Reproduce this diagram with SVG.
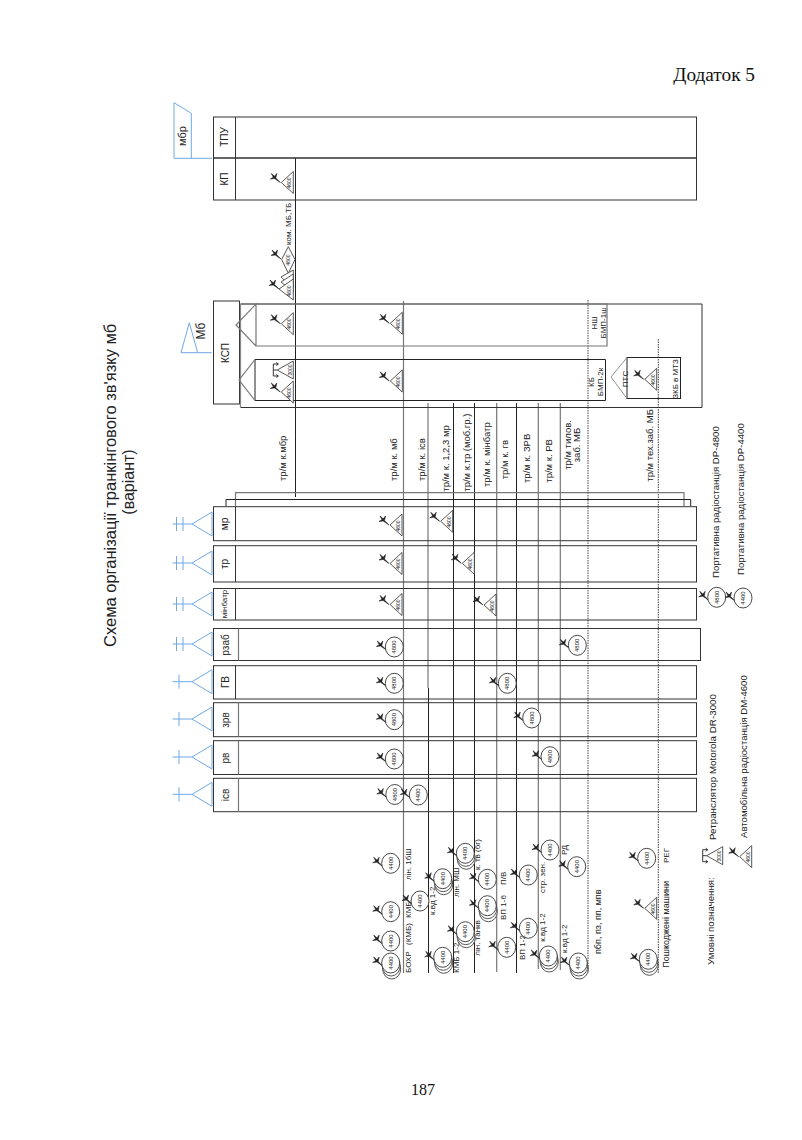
<svg xmlns="http://www.w3.org/2000/svg" width="802" height="1140" viewBox="0 0 802 1140">
<style>
text{font-family:"Liberation Sans",Arial,sans-serif;fill:#222;font-size:9px}
.m{text-anchor:middle}
.n{font-size:6px;text-anchor:middle}
.t{font-size:5px;text-anchor:middle}
.s{font-size:8px}
.l{font-size:9.5px}
.k{font-size:10px;text-anchor:middle}
.f{fill:none;stroke:#333;stroke-width:1}
.g{fill:none;stroke:#777;stroke-width:1.2}
.b{fill:none;stroke:#6fa8e6;stroke-width:1}
.w{fill:#fff;stroke:#444;stroke-width:.9}
.cl{fill:none;stroke:#222;stroke-width:1}
.cg{fill:none;stroke:#777;stroke-width:1.2}
.cd{fill:none;stroke:#444;stroke-width:1;stroke-dasharray:1.5 1}
</style>
<defs>
<g id="ant"><path d="M0,0L-4.500,-4.500L-3.500,-9L-5.800,-6.200L-9,-9L-7,-5.300L-10,-3.500L-5.800,-4Z" fill="#222" stroke="#222" stroke-width=".6"/></g>
<g id="tri"><use href="#ant" x="-13" y="0"/><polygon class="w" points="-12,0 0,-11 0,11"/></g>
<g id="cir"><use href="#ant" x="-8" y="3"/><ellipse class="w" rx="9" ry="10" style="stroke:#333"/></g>
<g id="cir3"><ellipse class="w" cx="1" cy="6" rx="9" ry="10"/><ellipse class="w" cx=".5" cy="3" rx="9" ry="10"/><use href="#cir"/></g>
<g id="rep"><path d="M-20,-6V6M-20,0H-16M-20,-6H-15M-20,6H-15M-17,-7.500L-15,-6L-17,-4.500M-17,7.500L-15,6L-17,4.500" fill="none" stroke="#222" stroke-width=".9"/><polygon class="w" points="-16,0 0,-9 0,9"/></g>
<g id="sb"><polygon class="b" points="20,-12 0,0 20,12"/><path class="b" d="M0,0H-19.500M-13,-7V7"/></g>
<g id="db"><polygon class="b" points="20,-12 0,0 20,12"/><path class="b" d="M0,0H-19.500M-15.500,-7V7M-9,-7V7"/></g>
</defs>

<g id="title">
<text transform="translate(116,647) rotate(-90)" style="font-size:16.500px">Схема організації транкінгового зв'язку мб</text>
<text class="m" transform="translate(134,482) rotate(-90)" style="font-size:16px">(варіант)</text>
</g>
<text x="755" y="81" text-anchor="end" style="font-family:'Liberation Serif',serif;font-size:19.300px;fill:#111">Додаток 5</text>
<text x="423" y="1095" text-anchor="middle" style="font-family:'Liberation Serif',serif;font-size:16px;fill:#111">187</text>

<g id="connectors">
<path class="cl" d="M295.500,158V497"/>
<path class="cg" d="M403.500,301V973"/>
<path class="cg" d="M428,403V688"/><path class="cl" d="M428.500,688V973"/>
<path class="cl" d="M453.500,403V973"/>
<path class="cl" d="M474.500,403V973"/>
<path class="cg" d="M496.700,403V972"/>
<path class="cl" d="M516.500,403V973"/>
<path class="cg" d="M538.300,403V969"/>
<path class="cg" d="M560.300,403V970"/>
<path class="cd" d="M588,300V973"/>
<path class="cd" d="M658.300,339V973"/>
<path class="g" d="M235.500,506V492.700H684V506"/>
<path class="cl" d="M226,506V499.500H690.700V506"/>
</g>

<g id="mbr"><polygon class="b" points="174,102.700 191.300,113.300 191.300,158.300 174,158.300"/><path class="b" d="M191.300,158.300H212"/><text class="k" transform="translate(186,136) rotate(-90)" style="font-size:11px">мбр</text></g>
<g id="mb"><polygon class="b" points="189.300,322.700 197.700,352.700 181,352.700"/><path class="b" d="M197.700,352.700H211.700"/><text class="m" transform="translate(205,331) rotate(-90)" style="font-size:12px">Мб</text></g>

<g id="tpu"><rect class="f" x="213.500" y="117" width="483" height="41"/><path class="f" d="M235.500,117V158"/><text class="k" transform="translate(228,137) rotate(-90)">ТПУ</text></g>
<g id="kp"><rect class="f" x="213.500" y="158" width="483" height="42"/><path class="f" d="M235.500,158V200"/><text class="k" transform="translate(228,179) rotate(-90)">КП</text>
<use href="#tri" x="293.300" y="182.500"/><text class="t" transform="translate(291,183) rotate(-90)">4600</text></g>
<g id="kom">
<use href="#ant" x="281" y="259"/><polygon class="w" points="281.700,259.500 288.300,246.700 295,259.500 288.300,273.300"/><text class="t" transform="translate(290,260) rotate(-90)">4600</text>
<polygon class="w" points="281,277 293.300,270 293.300,288"/><polygon class="w" points="281,282 293.300,274 293.300,292"/>
<use href="#ant" x="279" y="289"/><polygon class="w" points="279,289 293.300,279 293.300,300"/><text class="t" transform="translate(291,291) rotate(-90)">4600</text>
<text class="s" transform="translate(291,245) rotate(-90)">ком. МБ,ТБ</text></g>

<g id="ksp"><rect class="f" x="213.500" y="301" width="26" height="103"/><text class="k" transform="translate(229,353) rotate(-90)">КСП</text></g>
<g id="mbbox"><path class="f" d="M240.500,304H702V407.500H240.500"/><path class="g" d="M240.500,304V407.500" style="stroke:#888"/></g>
<g id="nsh"><path class="g" d="M240.500,304H607V346H256V304L236,325L256,346"/>
<use href="#tri" x="293.300" y="323.700"/><text class="t" transform="translate(291,324) rotate(-90)">4600</text>
<use href="#tri" x="402.300" y="323.300"/><text class="t" transform="translate(400,324) rotate(-90)">4600</text>
<text class="s m" transform="translate(597,323) rotate(-90)">НШ</text><text class="s m" transform="translate(605.500,323) rotate(-90)">БМП-1ш</text></g>
<g id="kb"><path class="cl" d="M605.500,359.500H255V400.500H605.500Z"/><path class="g" d="M255,359.500L239,380L255,400.500"/>
<use href="#rep" x="293.300" y="370"/><text class="t" transform="translate(291.500,370) rotate(-90)">3000</text>
<use href="#tri" x="293.300" y="392"/><text class="t" transform="translate(291,393) rotate(-90)">4600</text>
<use href="#tri" x="402.300" y="381"/><text class="t" transform="translate(400,382) rotate(-90)">4600</text>
<text class="s m" transform="translate(593.500,382) rotate(-90)">КБ</text><text class="s m" transform="translate(603,382) rotate(-90)">БМП-2к</text></g>
<g id="pts"><rect class="cl" x="627" y="357.500" width="53.500" height="41"/><path class="g" d="M627,357.500L611,377L627,398.500" style="stroke-width:.8"/>
<text class="s m" transform="translate(628,379) rotate(-90)">ПТС</text>
<use href="#tri" x="656.700" y="379.300"/><text class="t" transform="translate(654.500,380) rotate(-90)">4600</text>
<text class="s m" transform="translate(678,379) rotate(-90)">ЗКБ в МТЗ</text></g>

<g id="r-mr"><use href="#db" x="192" y="524"/><rect class="f" x="213.500" y="506.700" width="483" height="34"/><path class="f" d="M235.500,506.700V540.700"/><text class="k" transform="translate(228,524) rotate(-90)">мр</text>
<use href="#tri" x="402" y="525"/><text class="t" transform="translate(400,526) rotate(-90)">4600</text>
<use href="#tri" x="452.700" y="521.300"/><text class="t" transform="translate(450.500,522) rotate(-90)">4600</text></g>
<g id="r-tr"><use href="#db" x="192" y="563"/><rect class="f" x="213.500" y="545.700" width="483" height="36.300"/><path class="f" d="M235.500,545.700V582"/><text class="k" transform="translate(228,564) rotate(-90)">тр</text>
<use href="#tri" x="402" y="563.500"/><text class="t" transform="translate(400,564) rotate(-90)">4600</text>
<use href="#tri" x="474.300" y="563.300"/><text class="t" transform="translate(472,564) rotate(-90)">4600</text></g>
<g id="r-minbatr"><use href="#db" x="192" y="604"/><rect class="f" x="213.500" y="588.500" width="483" height="31.500"/><path class="f" d="M235.500,588.500V620"/><text class="m" transform="translate(227,604) rotate(-90)" style="font-size:8px">мінбатр</text>
<use href="#tri" x="402" y="604.500"/><text class="t" transform="translate(400,605) rotate(-90)">4600</text>
<use href="#tri" x="496" y="605"/><text class="t" transform="translate(494,606) rotate(-90)">4600</text></g>
<g id="r-rzab"><use href="#db" x="192" y="644"/><rect class="f" x="213.500" y="628.500" width="487" height="32"/><path class="g" d="M238.500,628.500V660.500"/><text class="k" transform="translate(229,645) rotate(-90)">рзаб</text>
<use href="#cir" x="394.300" y="647"/><text class="n" transform="translate(396.300,647) rotate(-90)">4800</text>
<use href="#cir" x="577.300" y="645.300"/><text class="n" transform="translate(579.300,645.300) rotate(-90)">4800</text></g>
<g id="r-gv"><use href="#sb" x="192" y="681.700"/><rect class="f" x="213.500" y="665.700" width="483" height="33.300"/><path class="f" d="M235.500,665.700V699"/><text class="k" transform="translate(229,682) rotate(-90)">ГВ</text>
<use href="#cir" x="394.300" y="683.300"/><text class="n" transform="translate(396.300,683.300) rotate(-90)">4800</text>
<use href="#cir" x="507.300" y="683.300"/><text class="n" transform="translate(509.300,683.300) rotate(-90)">4800</text></g>
<g id="r-zrv"><use href="#sb" x="192" y="719"/><rect class="f" x="213.500" y="702.700" width="483" height="34"/><path class="g" d="M238.500,702.700V736.700"/><text class="k" transform="translate(229,720) rotate(-90)">зрв</text>
<use href="#cir" x="394.300" y="719.700"/><text class="n" transform="translate(396.300,719.700) rotate(-90)">4800</text>
<use href="#cir" x="531.700" y="718"/><text class="n" transform="translate(533.700,718) rotate(-90)">4800</text></g>
<g id="r-rv"><use href="#sb" x="192" y="757"/><rect class="f" x="213.500" y="740.700" width="483" height="33.800"/><path class="g" d="M238.500,740.700V774.500"/><text class="k" transform="translate(229,758) rotate(-90)">рв</text>
<use href="#cir" x="394.300" y="759"/><text class="n" transform="translate(396.300,759) rotate(-90)">4800</text>
<use href="#cir" x="550" y="756.700"/><text class="n" transform="translate(552,756.700) rotate(-90)">4800</text></g>
<g id="r-isv"><use href="#sb" x="192" y="794.300"/><rect class="f" x="213.500" y="778.300" width="483" height="33.400"/><path class="g" d="M238.500,778.300V811.700"/><text class="k" transform="translate(229,795) rotate(-90)">ісв</text>
<use href="#cir" x="394.800" y="794.500"/><text class="n" transform="translate(396.800,794.500) rotate(-90)">4800</text>
<use href="#cir" x="418.300" y="795"/><text class="n" transform="translate(420.300,795) rotate(-90)">4400</text></g>

<g id="bus-labels">
<text class="l" transform="translate(285.500,481) rotate(-90)">тр/м к.мбр</text>
<text class="l" transform="translate(396.500,481) rotate(-90)">тр/м к. мб</text>
<text class="l" transform="translate(425,481) rotate(-90)">тр/м к. ісв</text>
<text class="l" transform="translate(448.500,491.700) rotate(-90)">тр/м к.  1,2,3 мр</text>
<text class="l" transform="translate(469.500,491.700) rotate(-90)">тр/м к.тр (моб.гр.)</text>
<text class="l" transform="translate(489.500,487) rotate(-90)">тр/м к. мінбатр</text>
<text class="l" transform="translate(507.500,479.300) rotate(-90)">тр/м к. гв</text>
<text class="l" transform="translate(529.500,483) rotate(-90)">тр/м к. ЗРВ</text>
<text class="l" transform="translate(551.800,482.700) rotate(-90)">тр/м к. РВ</text>
<text class="l m" transform="translate(570.500,445) rotate(-90)">тр/м тилов.</text>
<text class="l m" transform="translate(580,445) rotate(-90)">заб. МБ</text>
<text class="l" transform="translate(652.500,481.700) rotate(-90)">тр/м тех.заб. МБ</text>
</g>

<g id="legend">
<use href="#cir" x="716.700" y="597.300"/><text class="n" transform="translate(718.700,597.300) rotate(-90)">4800</text>
<use href="#cir" x="743" y="598"/><text class="n" transform="translate(745,598) rotate(-90)">4400</text>
<text style="font-size:9.600px" transform="translate(718.500,578) rotate(-90)">Портативна радіостанція DP-4800</text>
<text style="font-size:9.600px" transform="translate(744,575) rotate(-90)">Портативна радіостанція DP-4400</text>
<text style="font-size:9.800px" transform="translate(716,840) rotate(-90)">Ретранслятор Motorola DR-3000</text>
<text style="font-size:9.600px" transform="translate(746.500,838) rotate(-90)">Автомобільна радіостанція DM-4600</text>
<text style="font-size:9.700px" transform="translate(713.500,965) rotate(-90)">Умовні позначення:</text>
<use href="#rep" x="722.700" y="855.700"/><text class="t" transform="translate(721,856) rotate(-90)">3000</text>
<use href="#tri" x="751.700" y="856.700"/><text class="t" transform="translate(749.500,857) rotate(-90)">4600</text>
</g>

<g id="vehicles">
<use href="#cir" x="390.700" y="863.300"/><text class="n" transform="translate(392.700,863.300) rotate(-90)">4400</text>
<use href="#cir" x="390.700" y="911.700"/><text class="n" transform="translate(392.700,911.700) rotate(-90)">4400</text>
<use href="#cir" x="390.700" y="941"/><text class="n" transform="translate(392.700,941) rotate(-90)">4400</text>
<use href="#cir3" x="390.700" y="963"/><text class="n" transform="translate(392.700,963) rotate(-90)">4400</text>
<use href="#cir" x="420" y="901"/><text class="n" transform="translate(422,901) rotate(-90)">4400</text>
<use href="#cir3" x="442.700" y="878.700"/><text class="n" transform="translate(444.700,878.700) rotate(-90)">4400</text>
<use href="#cir3" x="442.700" y="957.300"/><text class="n" transform="translate(444.700,957.300) rotate(-90)">4400</text>
<use href="#cir3" x="465.300" y="853.300"/><text class="n" transform="translate(467.300,853.300) rotate(-90)">4400</text>
<use href="#cir3" x="465.300" y="931.700"/><text class="n" transform="translate(467.300,931.700) rotate(-90)">4400</text>
<use href="#cir" x="487.300" y="879.300"/><text class="n" transform="translate(489.300,879.300) rotate(-90)">4400</text>
<use href="#cir3" x="487.300" y="905.700"/><text class="n" transform="translate(489.300,905.700) rotate(-90)">4400</text>
<use href="#cir" x="506.700" y="947.300"/><text class="n" transform="translate(508.700,947.300) rotate(-90)">4400</text>
<use href="#cir" x="528.300" y="875"/><text class="n" transform="translate(530.300,875) rotate(-90)">4400</text>
<use href="#cir" x="528.300" y="928.300"/><text class="n" transform="translate(530.300,928.300) rotate(-90)">4400</text>
<use href="#cir" x="550" y="850"/><text class="n" transform="translate(552,850) rotate(-90)">4400</text>
<use href="#cir3" x="548.300" y="956"/><text class="n" transform="translate(550.300,956) rotate(-90)">4400</text>
<use href="#cir" x="576.700" y="866.700"/><text class="n" transform="translate(578.700,866.700) rotate(-90)">4400</text>
<use href="#cir3" x="578.300" y="963"/><text class="n" transform="translate(580.300,963) rotate(-90)">4400</text>
<use href="#cir3" x="648.300" y="959.300"/><text class="n" transform="translate(650.300,959.300) rotate(-90)">4400</text>
<use href="#tri" x="656.700" y="908.300"/><text class="t" transform="translate(654.500,909) rotate(-90)">4600</text>
<use href="#cir" x="646.700" y="858.300"/><text class="n" transform="translate(648.700,858.300) rotate(-90)">4400</text>
<text class="s" transform="translate(411,973) rotate(-90)">БОХР</text>
<text class="s" transform="translate(411,945) rotate(-90)">(КМБ)</text>
<text class="s" transform="translate(411,918) rotate(-90)">КМБ</text>
<text class="s" transform="translate(411,880) rotate(-90)">лін. 1бШ</text>
<text class="s" transform="translate(434.500,915) rotate(-90)">к.вд 1-2</text>
<text class="s" transform="translate(459,973) rotate(-90)">КМБ 1-2</text>
<text class="s" transform="translate(459,897) rotate(-90)">лін. МШ</text>
<text class="s" transform="translate(480,955.700) rotate(-90)">лін. танкв</text>
<text class="s" transform="translate(480,870) rotate(-90)">к. тв (бг)</text>
<text class="s" transform="translate(505.500,920) rotate(-90)">ВП 1-6</text>
<text class="s" transform="translate(505.500,885) rotate(-90)">П/В</text>
<text class="s" transform="translate(525,960) rotate(-90)">ВП 1-2</text>
<text class="s" transform="translate(545,893) rotate(-90)">стр. зен.</text>
<text class="s" transform="translate(545,941.700) rotate(-90)">к.вд 1-2</text>
<text class="s" transform="translate(567,855) rotate(-90)">РД</text>
<text class="s" transform="translate(567,953) rotate(-90)">к.вд 1-2</text>
<text transform="translate(601,954) rotate(-90)">пбп, пз, пп, мпв</text>
<text transform="translate(669,967.700) rotate(-90)">Пошкоджені машини</text>
<text class="s" transform="translate(669,863) rotate(-90)">РЕГ</text>
</g>
</svg>
